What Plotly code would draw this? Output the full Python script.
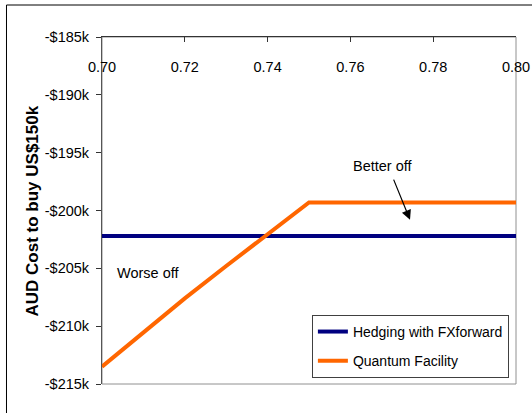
import plotly.graph_objects as go

# Data (AUD cost)
fx_rates = [0.70, 0.71, 0.72, 0.73, 0.74, 0.75, 0.80]
quantum_cost = [-213500, -210500, -207600, -204800, -202000, -199300, -199300]
hedge_rates = [0.70, 0.80]
hedge_cost = [-202200, -202200]

x_ticks = [0.70, 0.72, 0.74, 0.76, 0.78, 0.80]
x_ticktext = ["0.70", "0.72", "0.74", "0.76", "0.78", "0.80"]
y_ticks = [-185000, -190000, -195000, -200000, -205000, -210000, -215000]
y_ticktext = ["-$185k", "-$190k", "-$195k", "-$200k", "-$205k", "-$210k", "-$215k"]

FONT = "Liberation Sans, Arial, sans-serif"
FS = 14.5

fig = go.Figure()
fig.add_trace(go.Scatter(x=hedge_rates, y=hedge_cost, mode="lines",
                         name="Hedging with FXforward", legendgroup="a",
                         line=dict(color="#000080", width=4)))
fig.add_trace(go.Scatter(x=fx_rates, y=quantum_cost, mode="lines",
                         name="Quantum Facility", legendgroup="b",
                         line=dict(color="#FF6600", width=4)))

fig.update_layout(
    width=532, height=413,
    margin=dict(l=102, r=16, t=37, b=29),
    paper_bgcolor="white", plot_bgcolor="white",
    font=dict(family=FONT, size=FS, color="black"),
    showlegend=True,
    legend=dict(x=0.507, y=0.199, xanchor="left", yanchor="top",
                bgcolor="white", bordercolor="#404040", borderwidth=1,
                font=dict(family=FONT, size=14, color="black"),
                itemwidth=30, tracegroupgap=8),
    xaxis=dict(range=[0.70, 0.80], side="top", tickvals=x_ticks, ticktext=x_ticktext,
               ticks="inside", ticklen=5, tickcolor="#333333",
               ticklabelposition="outside", ticklabelstandoff=-42,
               automargin=False,
               showline=True, linecolor="#333333", linewidth=1,
               showgrid=False, zeroline=False,
               tickfont=dict(family=FONT, size=FS)),
    yaxis=dict(range=[-215000, -185000], tickvals=y_ticks, ticktext=y_ticktext,
               ticks="outside", ticklen=5, tickcolor="#333333",
               ticklabelstandoff=4,
               automargin=False,
               showline=True, linecolor="#555555", linewidth=1,
               showgrid=False, zeroline=False,
               tickfont=dict(family=FONT, size=FS)),
    shapes=[
        dict(type="rect", xref="paper", yref="paper", x0=0, x1=1, y0=0, y1=1,
             line=dict(color="#909090", width=1), layer="below"),
        dict(type="rect", xref="paper", yref="paper", x0=-0.2307, x1=1.2, y0=-0.3, y1=1.0922,
             line=dict(color="black", width=1), layer="below"),
    ],
    annotations=[
        dict(text="<b>AUD Cost to buy US$150k</b>", xref="paper", yref="paper",
             x=-0.1667, y=0.5, textangle=-90, showarrow=False,
             xanchor="center", yanchor="middle",
             font=dict(family=FONT, size=17)),
        dict(text="Worse off", xref="x", yref="y", x=0.7110, y=-205400,
             showarrow=False, font=dict(family=FONT, size=FS)),
        dict(text="Better off", xref="x", yref="y", x=0.7678, y=-196150,
             showarrow=False, font=dict(family=FONT, size=FS)),
        dict(text="", xref="x", yref="y", x=0.7744, y=-200800,
             axref="x", ayref="y", ax=0.7703, ay=-197200,
             showarrow=True, arrowhead=2, arrowsize=1.6, arrowwidth=1.2,
             arrowcolor="black"),
    ],
)

fig.write_html("out.html", config={"displayModeBar": False},
               post_script="document.body.style.margin='0';document.body.style.padding='0';")
